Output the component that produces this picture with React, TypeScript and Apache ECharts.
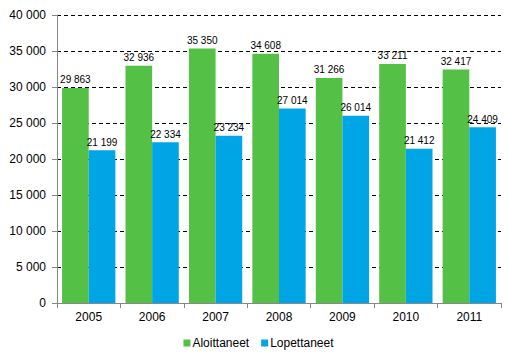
import React, { useEffect, useRef } from "react";
import * as echarts from "echarts";

const years = ["2005", "2006", "2007", "2008", "2009", "2010", "2011"];
const aloittaneet = [29863, 32936, 35350, 34608, 31266, 33211, 32417];
const lopettaneet = [21199, 22334, 23234, 27014, 26014, 21412, 24409];
const yTicks = { min: 0, max: 40000, interval: 5000 };

const fmt = (v: number) => String(v).replace(/\B(?=(\d{3})+(?!\d))/g, " ");

export default function App() {
  const ref = useRef<HTMLDivElement>(null);
  useEffect(() => {
    const chart = echarts.init(ref.current!, null, { renderer: "svg" });
    const labelStyle = {
      show: true,
      position: "top" as const,
      distance: 3,
      color: "#000",
      fontSize: 10,
      fontFamily: "'Liberation Sans Narrow', 'Liberation Sans', Arial, sans-serif",
      formatter: (p: any) => fmt(p.value),
    };
    chart.setOption({
      animation: false,
      textStyle: { fontFamily: "'Liberation Sans', Arial, sans-serif" },
      grid: { left: 57, right: 16, top: 15, bottom: 60 },
      legend: {
        bottom: 9,
        left: "center",
        itemWidth: 7,
        itemHeight: 7,
        itemGap: 12,
        icon: "rect",
        textStyle: { fontSize: 12, color: "#000", padding: [0, 0, 0, -3] },
        data: ["Aloittaneet", "Lopettaneet"],
      },
      xAxis: {
        type: "category",
        data: years,
        axisLine: { lineStyle: { color: "#888" } },
        axisTick: { show: true, length: 5, lineStyle: { color: "#888" } },
        axisLabel: { color: "#000", fontSize: 12, margin: 8 },
      },
      yAxis: {
        type: "value",
        min: yTicks.min,
        max: yTicks.max,
        interval: yTicks.interval,
        axisLine: { show: true, lineStyle: { color: "#888" } },
        axisTick: { show: true, length: 5, lineStyle: { color: "#888" } },
        axisLabel: { color: "#000", fontSize: 12, margin: 11, formatter: (v: number) => fmt(v) },
        splitLine: { show: true, lineStyle: { color: "#000", type: [4, 3], width: 1 } },
      },
      series: [
        {
          name: "Aloittaneet",
          type: "bar",
          data: aloittaneet,
          itemStyle: { color: "#54C045" },
          barGap: "0%",
          barCategoryGap: "16%",
          label: labelStyle,
        },
        {
          name: "Lopettaneet",
          type: "bar",
          data: lopettaneet,
          itemStyle: { color: "#00A5E6" },
          barGap: "0%",
          barCategoryGap: "16%",
          label: labelStyle,
        },
      ],
    });
    return () => chart.dispose();
  }, []);
  return <div ref={ref} style={{ width: 517, height: 363, position: "absolute", left: 0, top: 0 }} />;
}
